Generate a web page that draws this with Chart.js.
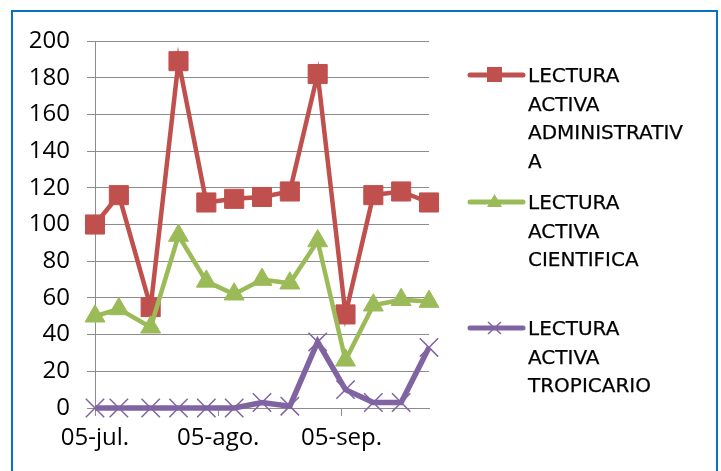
<!DOCTYPE html>
<html>
<head>
<meta charset="utf-8">
<script src="https://cdn.jsdelivr.net/npm/chart.js@4.4.1/dist/chart.umd.min.js"></script>
<style>
  html, body { margin: 0; padding: 0; background: #fff; }
  #wrap { position: relative; width: 721px; height: 471px; overflow: hidden; background: #fff; }
  #frame { position: absolute; left: 11px; top: 10px; width: 703px; height: 480px; border: 2px solid #0A70C0; }
  #chart { position: absolute; left: 0; top: 0; }
  .item { position: absolute; left: 466px; display: flex; align-items: flex-start; }
  .item svg { flex: none; }
  .item .txt { font-family: "DejaVu Sans", sans-serif; font-size: 20px; line-height: 28.5px; color: #000;
    margin-left: 2px; white-space: pre; -webkit-text-stroke: 0.25px #000; }
</style>
</head>
<body>
<div id="wrap">
  <div id="frame"></div>
  <canvas id="chart" width="721" height="471"></canvas>
  <div id="legend"></div>
</div>
<script>
// days since 05-jul
const dayOffsets = [0, 6, 14, 21, 28, 35, 42, 49, 56, 63, 70, 77, 84];
const tickDays = [0, 31, 62];
const tickLabels = ['05-jul.', '05-ago.', '05-sep.'];

const administrativa = [100, 116, 55, 189, 112, 114, 115, 118, 182, 51, 116, 118, 112];
const cientifica = [50, 54, 44, 94, 69, 62, 70, 68, 91, 26, 56, 59, 58];
const tropicario = [0, 0, 0, 0, 0, 0, 3, 1, 36, 10, 3, 3, 33];

const seriesLines = [
  ['LECTURA', 'ACTIVA', 'ADMINISTRATIV', 'A'],
  ['LECTURA', 'ACTIVA', 'CIENTIFICA'],
  ['LECTURA', 'ACTIVA', 'TROPICARIO']
];

const RED = '#C0504D', GREEN = '#9BBB59', PURPLE = '#8064A2', GRID = '#8c8c8c';

function toPoints(values) {
  return values.map((v, i) => ({ x: dayOffsets[i], y: v }));
}

new Chart(document.getElementById('chart'), {
  type: 'line',
  data: {
    datasets: [
      { label: seriesLines[0].join(' '), data: toPoints(administrativa), borderColor: RED, backgroundColor: RED, borderWidth: 4.5,
        pointStyle: 'rect', pointRadius: 13.5, pointBorderWidth: 1, pointBorderColor: RED, pointBackgroundColor: RED, order: 2, clip: false },
      { label: seriesLines[1].join(' '), data: toPoints(cientifica), borderColor: GREEN, backgroundColor: GREEN, borderWidth: 4.5,
        pointStyle: 'triangle', pointRadius: 11.5, pointBorderWidth: 1, pointBorderColor: GREEN, pointBackgroundColor: GREEN, order: 1, clip: false },
      { label: seriesLines[2].join(' '), data: toPoints(tropicario), borderColor: PURPLE, backgroundColor: PURPLE, borderWidth: 5.5,
        pointStyle: 'crossRot', pointRadius: 13, pointBorderWidth: 1.5, pointBorderColor: PURPLE, order: 0, clip: false }
    ]
  },
  options: {
    responsive: false,
    animation: false,
    devicePixelRatio: 1,
    layout: { padding: { top: 41, left: 0, right: 292, bottom: 0 } },
    elements: { line: { tension: 0 } },
    plugins: { legend: { display: false }, tooltip: { enabled: false } },
    scales: {
      x: {
        type: 'linear',
        min: 0,
        max: 84,
        afterBuildTicks(scale) { scale.ticks = tickDays.map((v) => ({ value: v })); },
        afterFit(scale) { scale.height = 63; },
        ticks: {
          autoSkip: false,
          maxRotation: 0,
          padding: 8,
          color: '#000',
          font: { family: 'Open Sans', size: 24 },
          callback: (value, index) => tickLabels[index]
        },
        grid: { drawOnChartArea: false, drawTicks: true, tickLength: 8, color: GRID },
        border: { color: GRID }
      },
      y: {
        min: 0,
        max: 200,
        afterFit(scale) { scale.width = 95; },
        ticks: { stepSize: 20, padding: 17, color: '#000', font: { family: 'Open Sans', size: 24 } },
        grid: { color: GRID, tickLength: 8 },
        border: { color: GRID }
      }
    }
  }
});

// legend with wrapped names, like the original
const legendTops = [61, 188, 314];
const legendColors = [RED, GREEN, PURPLE];
const markers = [
  (c) => `<rect x="21" y="6" width="15" height="15" fill="${c}"/>`,
  (c) => `<polygon points="28.5,6 36,19 21,19" fill="${c}"/>`,
  (c) => `<path d="M22 8 L35 20 M35 8 L22 20" stroke="${c}" stroke-width="1.5"/>`
];
const legendEl = document.getElementById('legend');
seriesLines.forEach((lines, i) => {
  const c = legendColors[i];
  const item = document.createElement('div');
  item.className = 'item';
  item.style.top = legendTops[i] + 'px';
  item.innerHTML =
    `<svg width="60" height="28"><line x1="4" y1="14" x2="57" y2="14" stroke="${c}" stroke-width="5" stroke-linecap="round"/>${markers[i](c)}</svg>` +
    `<div class="txt">${lines.join('\n')}</div>`;
  legendEl.appendChild(item);
});
</script>
</body>
</html>
